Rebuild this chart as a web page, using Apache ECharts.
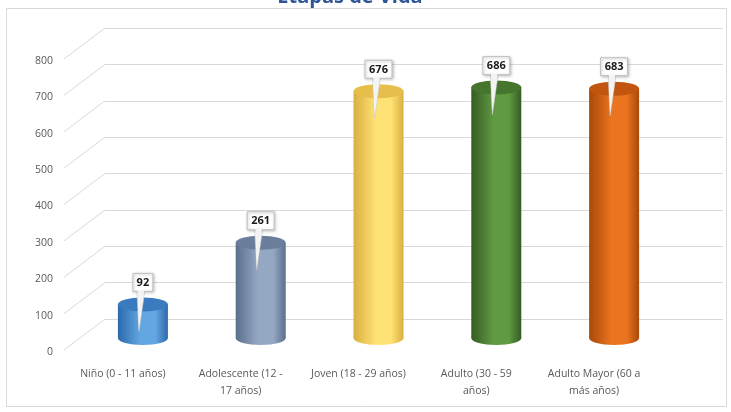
<!DOCTYPE html>
<html>
<head>
<meta charset="utf-8">
<script src="https://cdn.jsdelivr.net/npm/echarts@6/dist/echarts.min.js"></script>
<style>
  html, body { margin: 0; padding: 0; background: #fff; }
  #chart { width: 731px; height: 412px; }
</style>
</head>
<body>
<div id="chart"></div>
<script>
const categories = ['Niño (0 - 11 años)', 'Adolescente (12 -\n17 años)', 'Joven (18 - 29 años)', 'Adulto (30 - 59\naños)', 'Adulto Mayor (60 a\nmás años)'];
const values = [92, 261, 676, 686, 683];
const yTicks = [0, 100, 200, 300, 400, 500, 600, 700, 800];

// edge, middle, top colours for each cylinder
const barColors = [
    ['#2C69AB', '#62A6E2', '#3A7BC0'],
    ['#5A6F8E', '#95A8C3', '#6A7E9B'],
    ['#D9B040', '#FFE275', '#E5BE4C'],
    ['#365C22', '#609A42', '#46752D'],
    ['#AA4908', '#EA7420', '#C0560F']
];

const fontFam = '"Open Sans", "Noto Sans", sans-serif';

const chart = echarts.init(document.getElementById('chart'));

const option = {
    backgroundColor: '#fff',
    animation: false,
    title: {
        text: 'Etapas de Vida',
        left: 345,
        textAlign: 'center',
        top: -18,
        textStyle: { color: '#2F5597', fontSize: 20, fontWeight: 'bold', fontFamily: fontFam }
    },
    graphic: [{
        type: 'rect',
        shape: { x: 6.5, y: 8.5, width: 720, height: 398 },
        style: { fill: 'none', stroke: '#d9d9d9', lineWidth: 1 },
        silent: true
    }],
    grid: [
        // back wall
        { left: 105, right: 8, top: 28, bottom: 93 },
        // front axis labels
        { left: 64, right: 78, top: 61, bottom: 60 },
        // cylinders
        { left: 84, right: 58, top: 46, bottom: 74 }
    ],
    xAxis: [
        { gridIndex: 0, type: 'value', min: 0, max: 1, show: false },
        {
            gridIndex: 1, type: 'category', data: categories,
            axisLine: { show: false }, axisTick: { show: false },
            axisLabel: { color: '#595959', fontSize: 10.5, fontFamily: fontFam, margin: 14, lineHeight: 17, interval: 0 }
        },
        { gridIndex: 2, type: 'category', data: categories, show: false }
    ],
    yAxis: [
        {
            gridIndex: 0, type: 'value', min: 0, max: 800, interval: 100,
            axisLabel: { show: false }, axisLine: { show: false }, axisTick: { show: false },
            splitLine: { lineStyle: { color: '#d9d9d9', width: 1 } }
        },
        {
            gridIndex: 1, type: 'value', min: 0, max: 800, interval: 100,
            axisLine: { show: false }, axisTick: { show: false }, splitLine: { show: false },
            axisLabel: { color: '#595959', fontSize: 10.5, fontFamily: fontFam, margin: 11 }
        },
        { gridIndex: 2, type: 'value', min: 0, max: 800, show: false }
    ],
    series: [
        {
            // slanted side-wall lines joining labels to back gridlines
            type: 'custom',
            xAxisIndex: 0,
            yAxisIndex: 0,
            silent: true,
            data: yTicks.map(v => [0, v]),
            renderItem: (params, api) => {
                const p = api.coord([0, api.value(1)]);
                return {
                    type: 'line',
                    shape: { x1: p[0] - 41, y1: p[1] + 31, x2: p[0], y2: p[1] },
                    style: { stroke: '#d9d9d9', lineWidth: 1 }
                };
            }
        },
        {
            type: 'custom',
            xAxisIndex: 2,
            yAxisIndex: 2,
            data: values.map((v, i) => [i, v]),
            renderItem: (params, api) => {
                const i = api.value(0);
                const base = api.coord([i, 0]);
                const top = api.coord([i, api.value(1)]);
                const cx = base[0];
                const by = base[1];
                const ty = top[1];
                const rx = 25, ry = 7;
                const c = barColors[params.dataIndex];
                const body = {
                    type: 'linear', x: 0, y: 0, x2: 1, y2: 0,
                    colorStops: [
                        { offset: 0, color: c[0] },
                        { offset: 0.45, color: c[1] },
                        { offset: 0.75, color: c[1] },
                        { offset: 1, color: c[0] }
                    ]
                };
                const boxW = String(api.value(1)).length * 7 + 6;
                const boxTop = ty - 31;
                const boxBottom = boxTop + 18;
                return {
                    type: 'group',
                    children: [
                        { type: 'ellipse', shape: { cx: cx, cy: by, rx: rx, ry: ry }, style: { fill: body } },
                        { type: 'rect', shape: { x: cx - rx, y: ty, width: rx * 2, height: by - ty }, style: { fill: body } },
                        { type: 'ellipse', shape: { cx: cx, cy: ty, rx: rx, ry: ry }, style: { fill: c[2] } },
                        {
                            type: 'polygon',
                            shape: { points: [[cx - 6, boxBottom - 1], [cx + 2, boxBottom - 1], [cx - 4, ty + 27]] },
                            style: { fill: '#f4f4f4', stroke: '#c8c8c8', lineWidth: 0.6 }
                        },
                        {
                            type: 'rect',
                            shape: { x: cx - boxW / 2, y: boxTop, width: boxW, height: 18 },
                            style: { fill: '#fff', stroke: '#bfbfbf', lineWidth: 1, shadowBlur: 3, shadowColor: 'rgba(0,0,0,0.25)', shadowOffsetX: 1, shadowOffsetY: 1 }
                        },
                        {
                            type: 'polygon',
                            shape: { points: [[cx - 5.3, boxBottom - 1.5], [cx + 1.3, boxBottom - 1.5], [cx - 4, ty + 24]] },
                            style: { fill: '#f4f4f4' }
                        },
                        {
                            type: 'text',
                            style: {
                                text: String(api.value(1)), x: cx, y: boxTop + 9.5,
                                align: 'center', verticalAlign: 'middle',
                                font: 'bold 11px ' + fontFam, fill: '#1a1a1a'
                            }
                        }
                    ]
                };
            }
        }
    ]
};

chart.setOption(option);
</script>
</body>
</html>
